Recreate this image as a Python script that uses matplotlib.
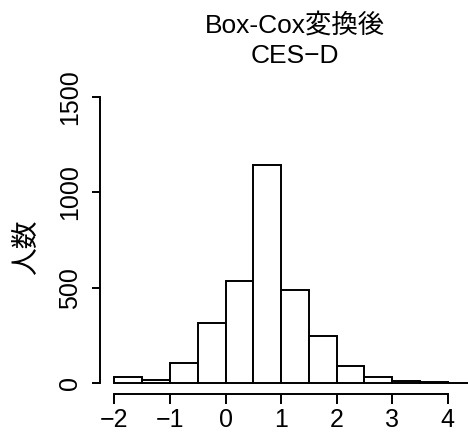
import matplotlib
matplotlib.use("Agg")
import matplotlib.pyplot as plt
import numpy as np

plt.rcParams['font.family'] = ['Liberation Sans', 'Noto Sans CJK JP', 'DejaVu Sans']

bin_edges = [-2.0, -1.5, -1.0, -0.5, 0.0, 0.5, 1.0, 1.5, 2.0, 2.5, 3.0, 3.5, 4.0, 4.5]
counts = [30, 17, 105, 314, 536, 1144, 489, 248, 87, 31, 8, 3, 1]
x_ticks = [-2, -1, 0, 1, 2, 3, 4]
y_ticks = [0, 500, 1000, 1500]
title_lines = ["Box-Cox変換後", "CES−D"]
ylabel = "人数"

W, H = 468, 434
fig = plt.figure(figsize=(W / 100, H / 100), dpi=100)
left, right, top, bottom = 100, 490, 85.6, 394.4
ax = fig.add_axes([left / W, 1 - bottom / H, (right - left) / W, (bottom - top) / H])

widths = np.diff(bin_edges)
lw = 1.4
ax.bar(bin_edges[:-1], counts, width=widths, align='edge', color='white',
       edgecolor='black', linewidth=lw)

ax.set_xlim(-2.26, 4.76)
ax.set_ylim(-60, 1560)
for s in ['top', 'right']:
    ax.spines[s].set_visible(False)
ax.spines['left'].set_bounds(0, 1500)
ax.spines['bottom'].set_bounds(-2, 4)
ax.spines['left'].set_linewidth(lw)
ax.spines['bottom'].set_linewidth(lw)
ax.set_xticks(x_ticks)
ax.set_xticklabels([str(v).replace('-', '−') for v in x_ticks])
ax.set_yticks(y_ticks)
ax.set_yticklabels([str(v) for v in y_ticks], rotation=90, va='center')
ax.tick_params(axis='both', width=lw, labelsize=18)
ax.tick_params(axis='x', length=7.5, pad=2.5)
ax.tick_params(axis='y', length=6, pad=7)

fig.text(295 / W, 1 - 25 / H, title_lines[0], ha='center', va='center', fontsize=19)
fig.text(295 / W, 1 - 56 / H, title_lines[1], ha='center', va='center', fontsize=19)
fig.text(27 / W, 1 - 247 / H, ylabel, ha='center', va='center', rotation=90, fontsize=20)

fig.savefig('out.png', dpi=100)
